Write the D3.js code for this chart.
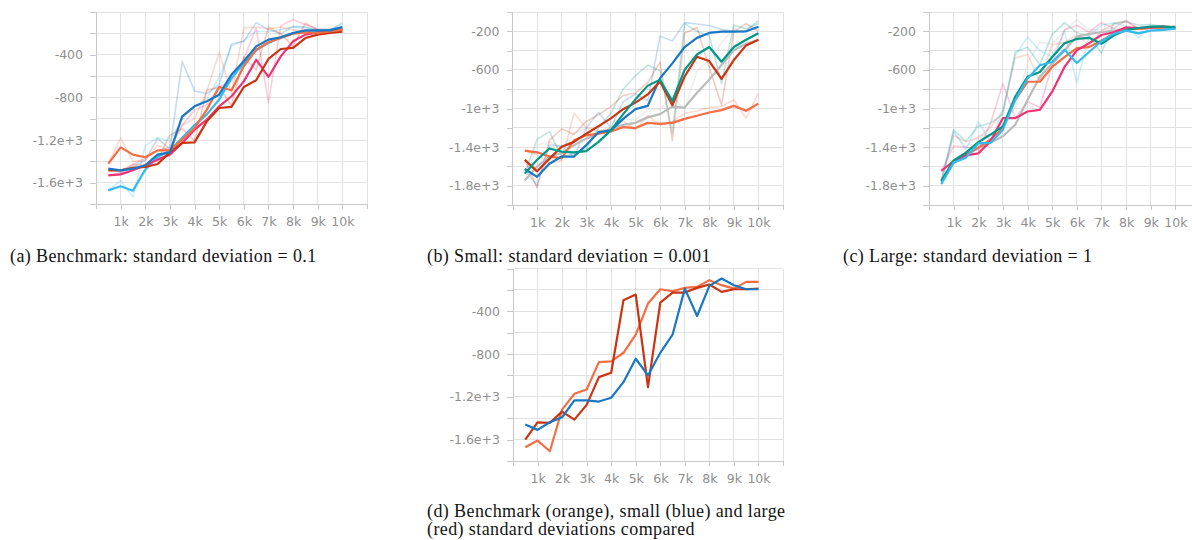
<!DOCTYPE html>
<html>
<head>
<meta charset="utf-8">
<script src="https://cdn.jsdelivr.net/npm/d3@7"></script>
<style>
  html, body { margin: 0; padding: 0; background: #ffffff; }
  svg { display: block; }
  .tick text { font-family: "DejaVu Sans", sans-serif; font-size: 12.5px; fill: #8f8f8f; }
  .caption { font-family: "Liberation Serif", serif; font-size: 18px; letter-spacing: 0.4px; fill: #141414; }
</style>
</head>
<body>
<script>
// Training steps at which each run was evaluated
const steps = [500, 1000, 1500, 2000, 2500, 3000, 3500, 4000, 4500, 5000,
               5500, 6000, 6500, 7000, 7500, 8000, 8500, 9000, 9500, 10000];

// Grid and tick positions
const xGridSteps = [0, 1000, 2000, 3000, 4000, 5000, 6000, 7000, 8000, 9000, 10000, 11000];
const xTickLabelSteps = [1000, 2000, 3000, 4000, 5000, 6000, 7000, 8000, 9000, 10000];
const xTickLabels = ["1k", "2k", "3k", "4k", "5k", "6k", "7k", "8k", "9k", "10k"];
const yGrid1800 = [0, -200, -400, -600, -800, -1000, -1200, -1400, -1600, -1800];
const yGrid2000 = [0, -200, -400, -600, -800, -1000, -1200, -1400, -1600, -1800, -2000];
const yTickValuesA = [-400, -800, -1200, -1600];
const yTickLabelsA = ["-400", "-800", "-1.2e+3", "-1.6e+3"];
const yTickValuesB = [-200, -600, -1000, -1400, -1800];
const yTickLabelsB = ["-200", "-600", "-1e+3", "-1.4e+3", "-1.8e+3"];

// (a) Benchmark, standard deviation 0.1 — raw and smoothed episode reward per run
const benchBlueRaw   = [-1470,-1505,-1450,-1390,-1185,-1285,-465,-740,-765,-680,-300,-275,-100,-165,-205,-135,-140,-170,-170,-100];
const benchBlue      = [-1469,-1484,-1469,-1437,-1337,-1316,-978,-884,-837,-775,-587,-462,-322,-259,-237,-197,-172,-172,-172,-141];
const benchCyanRaw   = [-1672,-1580,-1735,-1250,-1180,-1210,-1000,-880,-810,-610,-320,-270,-180,-185,-165,-140,-150,-168,-162,-120];
const benchCyan      = [-1672,-1634,-1675,-1478,-1360,-1300,-1180,-1060,-960,-820,-620,-480,-360,-290,-240,-200,-180,-175,-170,-150];
const benchOrangeRaw = [-1422,-1180,-1400,-1390,-1250,-1300,-1060,-1000,-740,-380,-760,-150,-140,-160,-140,-170,-180,-200,-160,-150];
const benchOrange    = [-1422,-1269,-1337,-1362,-1297,-1297,-1197,-1087,-915,-703,-734,-509,-353,-284,-244,-203,-191,-197,-181,-166];
const benchPinkRaw   = [-1530,-1510,-1430,-1370,-1300,-1270,-1060,-920,-870,-700,-650,-440,-150,-850,-130,-70,-120,-160,-165,-145];
const benchPink      = [-1531,-1522,-1484,-1437,-1384,-1337,-1228,-1103,-1009,-884,-790,-650,-447,-609,-416,-275,-212,-191,-181,-166];
const benchRedRaw    = [-1485,-1485,-1430,-1440,-1385,-1155,-1095,-1210,-730,-710,-875,-420,-545,-140,-205,-320,-105,-165,-175,-165];
const benchRed       = [-1484,-1484,-1462,-1453,-1425,-1316,-1228,-1222,-1025,-900,-890,-703,-640,-440,-347,-337,-244,-212,-197,-184];

// (b) Small, standard deviation 0.001
const smallBlueRaw   = [-1630,-1800,-1380,-1390,-1500,-1200,-1040,-1200,-930,-850,-920,-250,-300,-110,-125,-140,-180,-200,-195,-90];
const smallBlue      = [-1627,-1708,-1573,-1498,-1498,-1380,-1244,-1227,-1108,-1007,-973,-685,-532,-363,-268,-217,-203,-203,-200,-153];
const smallTealRaw   = [-1675,-1320,-1240,-1500,-1465,-1420,-1200,-1050,-800,-660,-550,-610,-1250,-120,-200,-245,-740,-135,-175,-120];
const smallTeal      = [-1675,-1532,-1414,-1447,-1454,-1441,-1346,-1227,-1058,-905,-763,-702,-922,-600,-441,-363,-515,-363,-288,-220];
const smallRedRaw    = [-1530,-1820,-1330,-1210,-1270,-1135,-1065,-980,-865,-840,-730,-520,-1330,-220,-160,-575,-965,-205,-120,-200];
const smallRed       = [-1532,-1651,-1522,-1397,-1346,-1261,-1183,-1102,-1007,-939,-854,-719,-966,-668,-464,-508,-692,-498,-346,-288];
const smallGreyRaw   = [-1745,-1380,-1345,-1410,-1255,-1210,-1185,-1135,-1110,-1120,-1010,-1010,-865,-1005,-610,-500,-320,-170,-230,-225];
const smallGrey      = [-1746,-1600,-1498,-1464,-1380,-1312,-1261,-1210,-1169,-1149,-1092,-1058,-980,-990,-837,-702,-549,-397,-329,-288];
const smallOrangeRaw = [-1437,-1480,-1565,-1540,-1050,-1200,-1235,-1200,-1130,-1220,-1070,-1175,-1135,-1050,-1025,-990,-980,-910,-1100,-840];
const smallOrange    = [-1437,-1454,-1498,-1515,-1329,-1278,-1261,-1237,-1193,-1203,-1149,-1159,-1149,-1108,-1075,-1041,-1017,-973,-1024,-949];

// (c) Large, standard deviation 1
const largeOrangeRaw = [-1750,-1280,-1345,-1305,-1195,-1025,-475,-440,-720,-340,-315,-235,-350,-195,-125,-100,-175,-150,-150,-175];
const largeOrange    = [-1749,-1561,-1475,-1407,-1321,-1202,-911,-723,-723,-569,-467,-374,-364,-296,-227,-176,-176,-166,-159,-166];
const largePinkRaw   = [-1645,-1390,-1400,-1435,-1150,-740,-1100,-930,-990,-545,-185,-140,-210,-110,-170,-85,-175,-150,-140,-170];
const largePink      = [-1646,-1544,-1485,-1465,-1338,-1099,-1099,-1031,-1014,-826,-569,-398,-323,-238,-210,-159,-166,-159,-152,-159];
const largeTealRaw   = [-1750,-1220,-1340,-1185,-1150,-1060,-415,-365,-545,-235,-110,-215,-250,-425,-115,-100,-135,-130,-150,-170];
const largeTeal      = [-1749,-1537,-1458,-1349,-1270,-1185,-877,-672,-621,-467,-323,-279,-268,-330,-244,-186,-166,-152,-152,-159];
const largeCyanRaw   = [-1785,-1230,-1430,-1140,-1345,-1010,-450,-260,-400,-465,-200,-735,-245,-135,-115,-145,-265,-150,-175,-155];
const largeCyan      = [-1783,-1561,-1509,-1362,-1356,-1219,-911,-689,-552,-518,-391,-528,-415,-303,-227,-193,-221,-193,-186,-173];
const largeGreyRaw   = [-1760,-1250,-1400,-1280,-1280,-1185,-990,-525,-315,-330,-195,-80,-185,-185,-170,-175,-160,-150,-148,-142];
const largeGrey      = [-1759,-1554,-1492,-1407,-1356,-1287,-1168,-911,-672,-535,-398,-255,-227,-210,-193,-186,-176,-166,-159,-152];

// (d) Comparison of the three settings
const compareBenchmark = [-1672,-1609,-1709,-1319,-1172,-1131,-875,-869,-788,-619,-328,-194,-213,-181,-172,-109,-156,-188,-125,-125];
const compareSmall     = [-1459,-1509,-1438,-1391,-1234,-1234,-1244,-1209,-1063,-844,-1000,-788,-619,-188,-444,-163,-94,-156,-194,-194];
const compareLarge     = [-1600,-1438,-1444,-1338,-1413,-1275,-1016,-975,-297,-244,-1109,-319,-225,-225,-181,-150,-219,-194,-194,-188];

// Run colours
const C = {
  blue: "#1a78c2", cyan: "#33bbee", teal: "#009988", orange: "#f46d43",
  red: "#cc3311", pink: "#ee3377", grey: "#bbbbbb"
};

const svg = d3.select("body").append("svg").attr("width", 1192).attr("height", 540);

function drawPanel(p) {
  const x = d3.scaleLinear().domain([0, 11000]).range([p.left, p.right]);
  const y = d3.scaleLinear().domain([p.yMin, 0]).range([p.bottom, p.top]);
  const g = svg.append("g");

  // grid
  g.append("g").selectAll("line.h").data(p.yGrid).join("line")
    .attr("x1", p.left).attr("x2", p.right)
    .attr("y1", d => y(d)).attr("y2", d => y(d))
    .attr("stroke", "#e2e2e2").attr("stroke-width", 1).attr("shape-rendering", "crispEdges");
  g.append("g").selectAll("line.v").data(xGridSteps).join("line")
    .attr("x1", d => x(d)).attr("x2", d => x(d))
    .attr("y1", p.top).attr("y2", p.bottom)
    .attr("stroke", "#e2e2e2").attr("stroke-width", 1).attr("shape-rendering", "crispEdges");

  // axes
  const yLabel = new Map(p.yTickValues.map((v, i) => [v, p.yTickLabels[i]]));
  const yAxis = d3.axisLeft(y).tickValues(p.yGrid).tickSize(6).tickPadding(7)
    .tickFormat(v => yLabel.get(v) || "");
  const ya = g.append("g").attr("transform", `translate(${p.left},0)`).call(yAxis);
  const xLabel = new Map(xTickLabelSteps.map((v, i) => [v, xTickLabels[i]]));
  const xAxis = d3.axisBottom(x).tickValues(xGridSteps).tickSize(5).tickPadding(8)
    .tickFormat(v => xLabel.get(v) || "");
  const xa = g.append("g").attr("transform", `translate(0,${p.bottom})`).call(xAxis);
  [ya, xa].forEach(a => {
    a.select(".domain").attr("stroke", "#c8c8c8").attr("shape-rendering", "crispEdges");
    a.selectAll(".tick line").attr("stroke", "#c8c8c8").attr("shape-rendering", "crispEdges");
    a.selectAll(".tick text").attr("font-family", null).attr("font-size", null);
  });
  ya.select(".domain").attr("d", `M0,${p.top}V${p.bottom}`);
  xa.select(".domain").attr("d", `M${p.left},0H${p.right}`);

  const line = d3.line().x((d, i) => x(steps[i])).y(d => y(d));
  const plot = g.append("g");
  (p.raw || []).forEach(s => {
    plot.append("path").attr("d", line(s.values)).attr("fill", "none")
      .attr("stroke", s.color).attr("stroke-opacity", 0.25).attr("stroke-width", 1.6)
      .attr("stroke-linejoin", "round");
  });
  p.smooth.forEach(s => {
    plot.append("path").attr("d", line(s.values)).attr("fill", "none")
      .attr("stroke", s.color).attr("stroke-width", 2.2)
      .attr("stroke-linejoin", "round");
  });
}

drawPanel({
  left: 96, right: 367, top: 12, bottom: 204, yMin: -1800,
  yGrid: yGrid1800, yTickValues: yTickValuesA, yTickLabels: yTickLabelsA,
  raw: [
    { values: benchCyanRaw, color: C.cyan }, { values: benchBlueRaw, color: C.blue },
    { values: benchPinkRaw, color: C.pink }, { values: benchRedRaw, color: C.red },
    { values: benchOrangeRaw, color: C.orange }
  ],
  smooth: [
    { values: benchCyan, color: C.cyan }, { values: benchPink, color: C.pink },
    { values: benchRed, color: C.red }, { values: benchOrange, color: C.orange },
    { values: benchBlue, color: C.blue }
  ]
});

drawPanel({
  left: 512.5, right: 783, top: 12, bottom: 205, yMin: -2000,
  yGrid: yGrid2000, yTickValues: yTickValuesB, yTickLabels: yTickLabelsB,
  raw: [
    { values: smallGreyRaw, color: C.grey }, { values: smallOrangeRaw, color: C.orange },
    { values: smallRedRaw, color: C.red }, { values: smallTealRaw, color: C.teal },
    { values: smallBlueRaw, color: C.blue }
  ],
  smooth: [
    { values: smallGrey, color: C.grey }, { values: smallOrange, color: C.orange },
    { values: smallBlue, color: C.blue }, { values: smallRed, color: C.red },
    { values: smallTeal, color: C.teal }
  ]
});

drawPanel({
  left: 929, right: 1200, top: 12, bottom: 205, yMin: -2000,
  yGrid: yGrid2000, yTickValues: yTickValuesB, yTickLabels: yTickLabelsB,
  raw: [
    { values: largeGreyRaw, color: C.grey }, { values: largeOrangeRaw, color: C.orange },
    { values: largePinkRaw, color: C.pink }, { values: largeTealRaw, color: C.teal },
    { values: largeCyanRaw, color: C.cyan }
  ],
  smooth: [
    { values: largeGrey, color: C.grey }, { values: largeOrange, color: C.orange },
    { values: largePink, color: C.pink }, { values: largeTeal, color: C.teal },
    { values: largeCyan, color: C.cyan }
  ]
});

drawPanel({
  left: 513, right: 783, top: 268.5, bottom: 461, yMin: -1800,
  yGrid: yGrid1800, yTickValues: yTickValuesA, yTickLabels: yTickLabelsA,
  smooth: [
    { values: compareBenchmark, color: C.orange },
    { values: compareLarge, color: C.red },
    { values: compareSmall, color: C.blue }
  ]
});

// Captions
const captions = [
  { x: 10, y: 262, text: "(a) Benchmark: standard deviation = 0.1" },
  { x: 427, y: 262, text: "(b) Small: standard deviation = 0.001" },
  { x: 843, y: 262, text: "(c) Large: standard deviation = 1" },
  { x: 427, y: 517, text: "(d) Benchmark (orange), small (blue) and large" },
  { x: 427, y: 535, text: "(red) standard deviations compared" }
];
svg.append("g").selectAll("text").data(captions).join("text")
  .attr("class", "caption").attr("x", d => d.x).attr("y", d => d.y).text(d => d.text);
</script>
</body>
</html>
